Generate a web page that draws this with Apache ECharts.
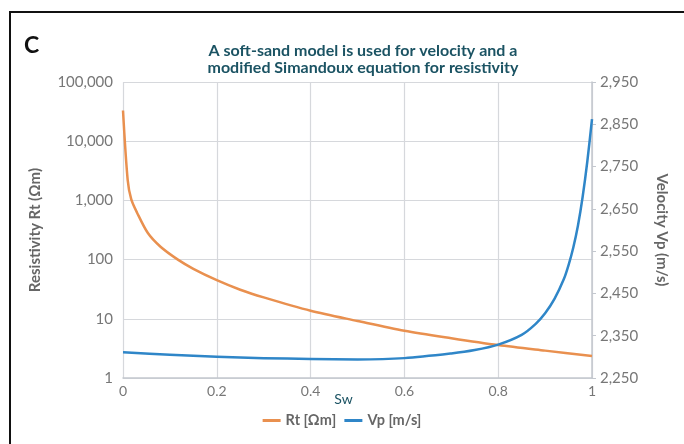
<!DOCTYPE html>
<html>
<head>
<meta charset="utf-8">
<script src="https://cdn.jsdelivr.net/npm/echarts@6/dist/echarts.min.js"></script>
<style>
  html, body { margin: 0; padding: 0; background: #fff; }
  #chart { width: 684px; height: 444px; }
</style>
</head>
<body>
<div id="chart"></div>
<script>
// Resistivity curve (log scale, left axis)
const rtSw = [0, 0.01, 0.0175, 0.03, 0.053, 0.08, 0.117, 0.15, 0.2, 0.25, 0.3, 0.4, 0.5, 0.6, 0.7, 0.8, 0.9, 1]
const rtValues = [33000, 2200, 1050, 620, 281, 165, 100, 70, 45, 31, 23, 13.7, 9.2, 6.3, 4.7, 3.6, 2.9, 2.36]

// Velocity curve (right axis)
const vpSw = [0, 0.1, 0.2, 0.3, 0.4, 0.5, 0.6, 0.7, 0.75, 0.8, 0.85, 0.88, 0.9, 0.92, 0.94, 0.95, 0.96, 0.97, 0.98, 0.99, 1]
const vpValues = [2311, 2305, 2300, 2297, 2295, 2294, 2297, 2308, 2316, 2329, 2352, 2378, 2403, 2437, 2484, 2517, 2558, 2610, 2678, 2762, 2862]

const xTicks = [0, 0.2, 0.4, 0.6, 0.8, 1]

const ORANGE = '#E9904F'
const BLUE = '#2F86C8'
const FONT = 'Lato'

const fmt = (v) => Number(v).toLocaleString('en-US')

const chart = echarts.init(document.getElementById('chart'))

chart.setOption({
  animation: false,
  textStyle: { fontFamily: FONT },
  title: {
    text: 'A soft-sand model is used for velocity and a\nmodified Simandoux equation for resistivity',
    left: 358,
    top: 37,
    textAlign: 'center',
    textStyle: { fontFamily: FONT, fontSize: 16, fontWeight: 'bold', color: '#1B5363', lineHeight: 17 },
  },
  graphic: [
    {
      type: 'rect',
      shape: { x: 10, y: 12, width: 700, height: 460 },
      style: { fill: 'none', stroke: '#111', lineWidth: 2 },
    },
    {
      type: 'text',
      left: 24,
      top: 34,
      style: { text: 'C', font: 'bold 23px ' + FONT, fill: '#111' },
    },
  ],
  legend: {
    top: 408,
    left: 'center',
    itemWidth: 18,
    itemHeight: 3,
    itemGap: 8,
    icon: 'rect',
    textStyle: { fontFamily: FONT, fontSize: 14.5, fontWeight: 'bold', color: '#666' },
    data: ['Rt [Ωm]', 'Vp [m/s]'],
  },
  grid: { left: 123, right: 92, top: 82, bottom: 66 },
  xAxis: {
    type: 'value',
    min: 0,
    max: 1,
    interval: 0.2,
    name: 'Sw',
    nameLocation: 'middle',
    nameGap: 14,
    nameMoveOverlap: false,
    nameTextStyle: { fontFamily: FONT, fontSize: 14, color: '#1B5363', padding: [0, 28, 0, 0] },
    axisLine: { lineStyle: { color: '#c3c7ce', width: 1.5 } },
    axisTick: { show: false },
    axisLabel: {
      margin: 6,
      fontSize: 14,
      color: '#777',
      formatter: (v) => (xTicks.includes(+v.toFixed(1)) ? String(+v.toFixed(1)) : ''),
    },
    splitLine: { show: true, lineStyle: { color: '#d6d8dc', width: 1.2 } },
  },
  yAxis: [
    {
      type: 'log',
      logBase: 10,
      min: 1,
      max: 100000,
      name: 'Resistivity Rt (Ωm)',
      nameLocation: 'middle',
      nameGap: 80,
      nameTextStyle: { fontFamily: FONT, fontSize: 15, fontWeight: 'bold', color: '#666' },
      axisLine: { show: false },
      axisTick: { show: false },
      axisLabel: { fontSize: 15, color: '#777', margin: 10, formatter: fmt },
      splitLine: { show: true, lineStyle: { color: '#d6d8dc', width: 1.2 } },
    },
    {
      type: 'value',
      min: 2250,
      max: 2950,
      interval: 100,
      position: 'right',
      name: 'Velocity Vp (m/s)',
      nameLocation: 'middle',
      nameGap: 62,
      nameRotate: -90,
      nameTextStyle: { fontFamily: FONT, fontSize: 15, fontWeight: 'bold', color: '#666' },
      axisLine: { show: true, lineStyle: { color: '#c3c7ce', width: 1.5 } },
      axisTick: { show: true, length: 4, lineStyle: { color: '#c3c7ce' } },
      axisLabel: { fontSize: 15, color: '#777', margin: 8, formatter: fmt },
      splitLine: { show: false },
    },
  ],
  series: [
    {
      name: 'Rt [Ωm]',
      type: 'line',
      yAxisIndex: 0,
      smooth: 0.3,
      symbol: 'none',
      lineStyle: { color: ORANGE, width: 2.5, join: 'round' },
      itemStyle: { color: ORANGE },
      data: rtSw.map((s, i) => [s, rtValues[i]]),
    },
    {
      name: 'Vp [m/s]',
      type: 'line',
      yAxisIndex: 1,
      smooth: 0.3,
      symbol: 'none',
      lineStyle: { color: BLUE, width: 2.5, join: 'round' },
      itemStyle: { color: BLUE },
      data: vpSw.map((s, i) => [s, vpValues[i]]),
    },
  ],
})
</script>
</body>
</html>
